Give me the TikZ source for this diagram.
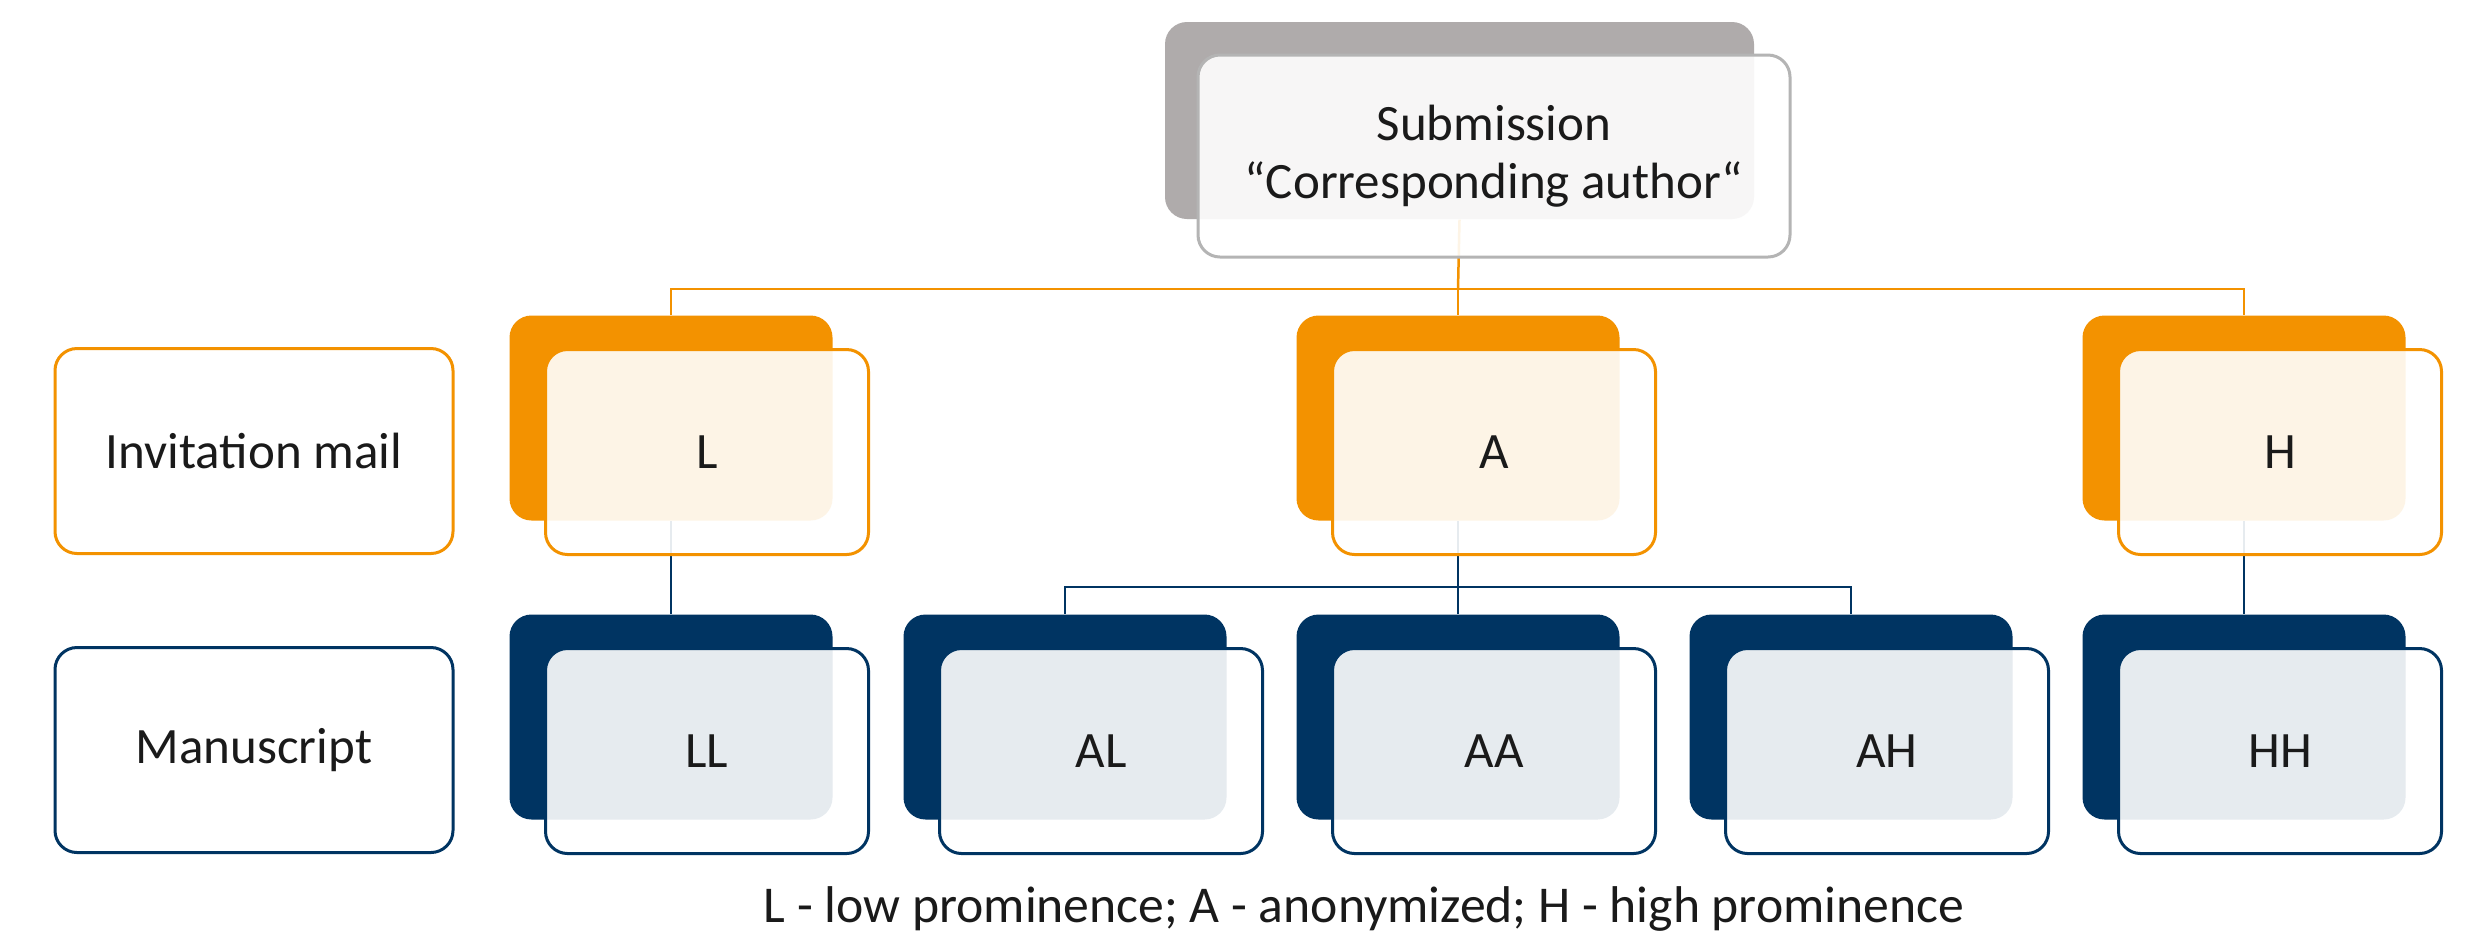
\documentclass[tikz,border=0pt]{standalone}
\usepackage{fontspec}
\setmainfont{Carlito}
\definecolor{orangeC}{HTML}{F39200}
\definecolor{navyC}{HTML}{003462}
\definecolor{grayC}{HTML}{AFABAB}
\definecolor{grayB}{HTML}{B4B4B4}
\definecolor{txtC}{HTML}{1A1A1A}
\tikzset{
  box/.style={rounded corners=6.6pt, inner sep=0pt, minimum width=96.9pt, minimum height=61.5pt},
  backG/.style={box, fill=grayC, minimum width=176.7pt, minimum height=59.1pt},
  backO/.style={box, fill=orangeC},
  backN/.style={box, fill=navyC},
  frontbox/.style={box, fill=white, fill opacity=0.9, text opacity=1, line width=0.9pt, text=txtC, font=\fontsize{15.3}{17.5}\selectfont},
  frontO/.style={frontbox, draw=orangeC},
  frontN/.style={frontbox, draw=navyC},
  labelO/.style={frontbox, fill opacity=1, draw=orangeC, minimum width=119.4pt},
  labelN/.style={frontbox, fill opacity=1, draw=navyC, minimum width=119.4pt},
  connO/.style={draw=orangeC, line width=0.75pt},
  connN/.style={draw=navyC, line width=0.75pt},
}
\begin{document}
\begin{tikzpicture}[x=0.3pt,y=-0.3pt]
\useasboundingbox[fill=white] (0,0) rectangle (2475,933);
% back boxes
\node[backG] (Sb) at (1459.5,120.5) {};
\node[backO] (Lb) at (671,418) {};
\node[backO] (Ab) at (1458,418) {};
\node[backO] (Hb) at (2244,418) {};
\node[backN] (LLb) at (671,717) {};
\node[backN] (ALb) at (1065,717) {};
\node[backN] (AAb) at (1458,717) {};
\node[backN] (AHb) at (1851,717) {};
\node[backN] (HHb) at (2244,717) {};
% junctions
\coordinate (j1) at (1458,289);
\coordinate (j2) at (1458,587);
% connectors (beneath the front boxes)
\draw[connO] (Sb.south) -- (j1);
\draw[connO] (Lb.north) |- (j1) -| (Hb.north);
\draw[connO] (j1) -- (Ab.north);
\draw[connN] (Lb.south) -- (LLb.north);
\draw[connN] (Hb.south) -- (HHb.north);
\draw[connN] (Ab.south) -- (j2);
\draw[connN] (ALb.north) |- (j2) -| (AHb.north);
\draw[connN] (j2) -- (AAb.north);
% front boxes
\node[frontbox, draw=grayB, minimum width=177.6pt, minimum height=60.6pt, align=center] (Sf) at (1494,156) {Submission\\“Corresponding author“};
\node[frontO] (Lf) at (707,452) {L};
\node[frontO] (Af) at (1494,452) {A};
\node[frontO] (Hf) at (2280,452) {H};
\node[frontN] (LLf) at (707,751) {LL};
\node[frontN] (ALf) at (1101,751) {AL};
\node[frontN] (AAf) at (1494,751) {AA};
\node[frontN] (AHf) at (1887,751) {AH};
\node[frontN] (HHf) at (2280,751) {HH};
% row labels
\node[labelO] (inv) at (254,451) {Invitation mail};
\node[labelN] (man) at (254,750) {Manuscript};
% legend
\node[text=txtC, font=\fontsize{15.5}{19}\selectfont, inner sep=0pt] (legend) at (1364,909) {L - low prominence; A - anonymized; H - high prominence};
\end{tikzpicture}
\end{document}
